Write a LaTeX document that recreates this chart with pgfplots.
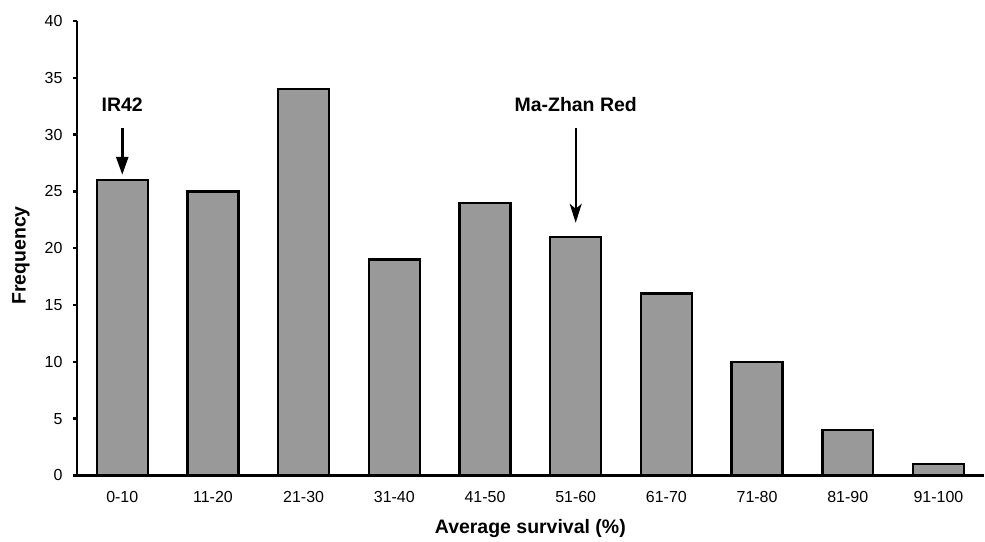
\documentclass[border=0pt]{standalone}
\usepackage{fontspec}
\setmainfont{Liberation Sans}
\usepackage{pgfplots}
\pgfplotsset{compat=1.18}
\usetikzlibrary{arrows.meta}
\definecolor{bargray}{HTML}{999999}
\begin{document}
\begin{tikzpicture}
\begin{axis}[
  name=ax,
  scale only axis,
  width=908pt, height=455pt,
  xmin=-0.5, xmax=9.5, ymin=0, ymax=40,
  axis x line=bottom, axis y line=left,
  axis line style={-, line width=2.4pt},
  ytick={0,5,...,40},
  xtick={0,...,9},
  xticklabels={0-10,11-20,21-30,31-40,41-50,51-60,61-70,71-80,81-90,91-100},
  x tick style={draw=none},
  y tick style={line width=2.4pt, black},
  tick align=outside,
  major tick length=4pt,
  ticklabel style={font=\fontsize{16}{19}\selectfont},
  yticklabel style={xshift=-7pt},
  xticklabel style={yshift=-8pt},
  /pgf/number format/assume math mode=true,
  xlabel={\textbf{Average survival (\%)}},
  ylabel={\textbf{Frequency}},
  xlabel style={at={(axis description cs:0.5,-0.117)}, anchor=center, font=\fontsize{19.5}{23}\selectfont},
  ylabel style={at={(axis description cs:-0.0617,0.484)}, anchor=center, rotate=0, font=\fontsize{19.5}{23}\selectfont},
  clip=false,
]
\addplot[ybar, bar width=51pt, fill=bargray, draw=black, line width=2.4pt] coordinates {
  (0,26) (1,25) (2,34) (3,19) (4,24) (5,21) (6,16) (7,10) (8,4) (9,1)
};
\draw[-{Triangle[length=18pt,width=12pt]}, line width=2.6pt] (axis cs:0,30.6) -- (axis cs:0,26.46);
\node[font=\fontsize{19.5}{23}\selectfont\bfseries] at (axis cs:0,32.66) {IR42};
\draw[-{Stealth[length=19pt,width=12pt,inset=5pt]}, line width=1.8pt] (axis cs:5,30.6) -- (axis cs:5,22.24);
\node[font=\fontsize{19.5}{23}\selectfont\bfseries] at (axis cs:5,32.66) {Ma-Zhan Red};
\end{axis}
\path ([shift={(-77pt,-64pt)}]ax.south west) rectangle ([shift={(0pt,21pt)}]ax.north east);
\end{tikzpicture}
\end{document}
